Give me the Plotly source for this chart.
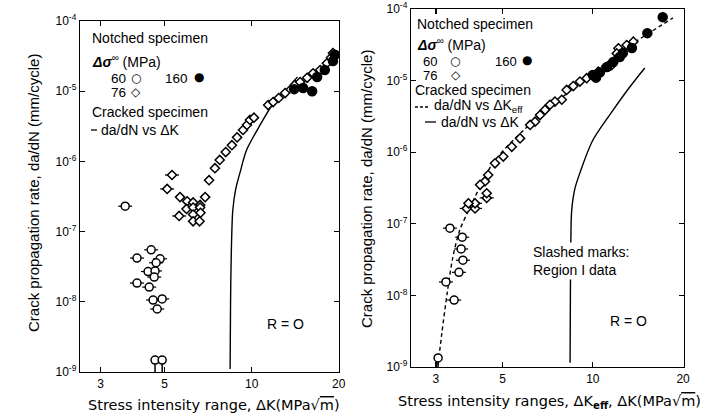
import plotly.graph_objects as go

FONT = "Liberation Sans, Arial, Helvetica, sans-serif"
FONT_WIDE = "DejaVu Sans, Liberation Sans, sans-serif"
W, H = 719, 416

# ---------------- Left panel: da/dN vs ΔK ----------------
L_c60_slash_dk = [3.65, 4.49, 4.01, 4.82, 4.67, 4.38, 4.63, 4.60, 4.01, 4.42, 4.56, 4.90, 4.71]
L_c60_slash_rate = [2.3e-7, 5.5e-8, 4.2e-8, 4.1e-8, 3.6e-8, 2.7e-8, 2.75e-8, 2.25e-8,
                    1.85e-8, 1.62e-8, 1.06e-8, 1.1e-8, 7.9e-9]
L_c60_runout_dk = [4.63, 4.90]
L_c60_runout_rate = [1.48e-9, 1.48e-9]
L_d76_slash_dk = [5.30, 5.10, 5.61]
L_d76_slash_rate = [6.4e-7, 4.05e-7, 1.67e-7]
L_d76_dk = [5.65, 5.98, 6.27, 6.63, 5.95, 6.27, 6.63, 6.27, 6.65, 6.27, 6.60,
            6.90, 7.12, 7.46, 7.75, 8.13, 8.54, 8.90, 9.33, 9.63, 9.86, 10.18,
            11.4, 11.86, 12.4, 13.05, 14.1, 14.7, 15.55, 16.3, 17.25, 18.2, 18.8, 19.1]
L_d76_rate = [3.1e-7, 2.7e-7, 2.6e-7, 2.4e-7, 2.1e-7, 2.2e-7, 2.2e-7, 1.75e-7, 1.85e-7, 1.4e-7, 1.4e-7,
              3.1e-7, 5.4e-7, 8.0e-7, 1.05e-6, 1.36e-6, 1.7e-6, 2.2e-6, 2.8e-6, 3.3e-6, 3.9e-6, 4.2e-6,
              6.35e-6, 7.0e-6, 8.0e-6, 9.4e-6, 1.23e-5, 1.35e-5, 1.55e-5, 1.8e-5, 2.0e-5, 2.5e-5, 3.0e-5, 3.5e-5]
L_f160_dk = [14.02, 15.06, 16.18, 16.84, 17.9, 19.1, 19.4]
L_f160_rate = [1.07e-5, 1.11e-5, 1.0e-5, 1.59e-5, 2.0e-5, 2.69e-5, 3.3e-5]
L_curve_dk = [8.42, 8.45, 8.5, 8.6, 8.8, 9.1, 9.6, 10.6, 11.9, 13.3, 14.4]
L_curve_rate = [1.1e-9, 1e-8, 5e-8, 2e-7, 4e-7, 6.8e-7, 1.45e-6, 3.1e-6, 6.8e-6, 1.1e-5, 1.6e-5]

# ---------------- Right panel: da/dN vs ΔKeff, ΔK ----------------
R_c60_slash_dk = [3.34, 3.67, 3.64, 3.69, 3.58, 3.24, 3.45]
R_c60_slash_rate = [8.7e-8, 6.5e-8, 4.45e-8, 3.1e-8, 2.1e-8, 1.54e-8, 8.6e-9]
R_c60_runout_dk = [3.05]
R_c60_runout_rate = [1.34e-9]
R_d76_slash_dk = [3.80, 4.05, 4.05, 4.43]
R_d76_slash_rate = [1.64e-7, 1.64e-7, 1.93e-7, 2.3e-7]
R_d76_dk = [13.65, 12.97, 12.17, 12.02, 11.56, 10.43, 10.17, 9.54, 9.06, 8.61, 8.18, 7.88, 7.48, 7.2,
            6.93, 6.67, 6.42, 6.18, 5.72, 5.37, 5.03, 4.72, 4.48, 4.37, 4.21, 4.43, 3.85]
R_d76_rate = [3.5e-5, 3.14e-5, 2.83e-5, 2.4e-5, 1.65e-5, 1.33e-5, 1.13e-5, 1.08e-5, 9.7e-6, 8.4e-6, 7.4e-6,
              5.4e-6, 5.1e-6, 4.6e-6, 3.9e-6, 3.3e-6, 2.67e-6, 2.4e-6, 1.56e-6, 1.19e-6, 8.7e-7, 7.0e-7,
              4.8e-7, 3.9e-7, 3.5e-7, 2.67e-7, 1.93e-7]
R_f160_dk = [17.1, 15.2, 13.5, 12.6, 12.3, 11.7, 11.15, 10.57, 10.0, 10.25]
R_f160_rate = [7.7e-5, 4.6e-5, 2.85e-5, 2.43e-5, 2.14e-5, 1.82e-5, 1.55e-5, 1.31e-5, 1.2e-5, 1.1e-5]
R_eff_dk = [3.05, 3.14, 3.27, 3.41, 3.6, 3.9, 4.65, 6.0, 8.9, 13.0, 18.5]
R_eff_rate = [1.07e-9, 3e-9, 1.07e-8, 3.3e-8, 8.1e-8, 1.7e-7, 7.1e-7, 2.2e-6, 8.7e-6, 2.9e-5, 7.5e-5]
R_dk_dk = [8.4, 8.42, 8.45, 8.5, 8.7, 9.05, 10.0, 11.7, 13.3, 14.9]
R_dk_rate = [1.15e-9, 1e-8, 6e-8, 1.5e-7, 3e-7, 5.1e-7, 1.47e-6, 3.9e-6, 8.2e-6, 1.5e-5]

# ---------------- Axis ticks ----------------
X_TICKS = [3, 5, 10, 20]
X_TICKTEXT = ["3", "5", "10", "20"]
Y_TICKS = [1e-9, 1e-8, 1e-7, 1e-6, 1e-5, 1e-4]
Y_TICKTEXT = ["10<sup>-9</sup>", "10<sup>-8</sup>", "10<sup>-7</sup>", "10<sup>-6</sup>",
              "10<sup>-5</sup>", "10<sup>-4</sup>"]
Y_FLOOR = 1e-9

fig = go.Figure()


def slashed(x, y, xa, ya, size_line=10):
    fig.add_trace(go.Scatter(x=x, y=y, xaxis=xa, yaxis=ya, mode="markers", hoverinfo="skip",
                             marker=dict(symbol="line-ew", size=size_line,
                                         line=dict(color="black", width=1.2))))


def circles(x, y, xa, ya, filled=False, size=8, runout=False):
    kw = {}
    if runout:
        kw["error_y"] = dict(type="data", symmetric=False, array=[0] * len(y),
                             arrayminus=[v - Y_FLOOR for v in y], width=0,
                             thickness=1.5, color="black")
    fig.add_trace(go.Scatter(x=x, y=y, xaxis=xa, yaxis=ya, mode="markers",
                             marker=dict(symbol="circle", size=size,
                                         color="black" if filled else "white",
                                         line=dict(color="black", width=1.5)), **kw))


def diamonds(x, y, xa, ya):
    fig.add_trace(go.Scatter(x=x, y=y, xaxis=xa, yaxis=ya, mode="markers",
                             marker=dict(symbol="diamond", size=7, color="white",
                                         line=dict(color="black", width=1.5))))


# Left panel
fig.add_trace(go.Scatter(x=L_curve_dk, y=L_curve_rate, xaxis="x", yaxis="y", mode="lines",
                         line=dict(color="black", width=1.4, shape="spline", smoothing=0.8)))
slashed(L_c60_slash_dk, L_c60_slash_rate, "x", "y")
circles(L_c60_slash_dk, L_c60_slash_rate, "x", "y")
circles(L_c60_runout_dk, L_c60_runout_rate, "x", "y", runout=True)
slashed(L_d76_slash_dk, L_d76_slash_rate, "x", "y")
diamonds(L_d76_slash_dk, L_d76_slash_rate, "x", "y")
diamonds(L_d76_dk, L_d76_rate, "x", "y")
circles(L_f160_dk, L_f160_rate, "x", "y", filled=True, size=9)

# Right panel
fig.add_trace(go.Scatter(x=R_eff_dk, y=R_eff_rate, xaxis="x2", yaxis="y2", mode="lines",
                         line=dict(color="black", width=1.4, dash="4px,3px", shape="spline", smoothing=0.8)))
fig.add_trace(go.Scatter(x=R_dk_dk, y=R_dk_rate, xaxis="x2", yaxis="y2", mode="lines",
                         line=dict(color="black", width=1.4, shape="spline", smoothing=0.8)))
slashed(R_c60_slash_dk, R_c60_slash_rate, "x2", "y2")
circles(R_c60_slash_dk, R_c60_slash_rate, "x2", "y2")
circles(R_c60_runout_dk, R_c60_runout_rate, "x2", "y2", runout=True)
slashed(R_d76_slash_dk, R_d76_slash_rate, "x2", "y2")
diamonds(R_d76_slash_dk, R_d76_slash_rate, "x2", "y2")
diamonds(R_d76_dk, R_d76_rate, "x2", "y2")
circles(R_f160_dk, R_f160_rate, "x2", "y2", filled=True, size=9)

axis_common = dict(type="log", showgrid=False, zeroline=False, showline=True, linecolor="black",
                   linewidth=1.3, mirror="ticks", ticks="inside", ticklen=5, tickwidth=1.2,
                   tickcolor="black", automargin=False,
                   tickfont=dict(family=FONT, size=12, color="black"))


def px(x):
    return x / W


def py(y):
    return 1 - y / H


fig.update_layout(
    width=W, height=H, margin=dict(l=0, r=0, t=0, b=0, pad=0, autoexpand=False),
    paper_bgcolor="white", plot_bgcolor="white", showlegend=False, hovermode=False,
    xaxis=dict(axis_common, domain=[px(80), px(339)], range=[0.406, 1.302], anchor="y",
               tickvals=X_TICKS, ticktext=X_TICKTEXT),
    yaxis=dict(axis_common, domain=[py(372), py(21)], range=[-9, -4], anchor="x",
               tickvals=Y_TICKS, ticktext=Y_TICKTEXT),
    xaxis2=dict(axis_common, domain=[px(411), px(684)], range=[0.394, 1.304], anchor="y2",
                tickvals=X_TICKS, ticktext=X_TICKTEXT),
    yaxis2=dict(axis_common, domain=[py(367), py(9)], range=[-9, -4], anchor="x2",
                tickvals=Y_TICKS, ticktext=Y_TICKTEXT),
)

annotations = []
shapes = []


def ann(text, x, y, size=14, xanchor="left", family=FONT, **kw):
    annotations.append(dict(text=text, x=px(x), y=py(y), xref="paper", yref="paper",
                            xanchor=xanchor, yanchor="middle", showarrow=False,
                            font=dict(family=family, size=size, color="black"), **kw))


def legline(x0, x1, y, dash="solid"):
    shapes.append(dict(type="line", xref="paper", yref="paper", x0=px(x0), x1=px(x1),
                       y0=py(y), y1=py(y), line=dict(color="black", width=1.3, dash=dash)))


DSIG = "<b><i>Δσ</i></b><sup>∞</sup> (MPa)"

# Left legend
ann("Notched specimen", 90, 38)
ann(DSIG, 90, 61)
ann("60", 109, 78, size=13.5)
ann("○", 136, 78, size=12, xanchor="center", family=FONT_WIDE)
ann("160", 163, 78, size=13.5)
ann("●", 199, 77, size=12, xanchor="center", family=FONT_WIDE)
ann("76", 109, 92, size=13.5)
ann("◇", 136, 92, size=12, xanchor="center", family=FONT_WIDE)
ann("Cracked specimen", 90, 112)
legline(91, 97, 130)
ann("da/dN vs ΔK", 99, 130)
ann("R = O", 285, 324, xanchor="center")

# Right legend
ann("Notched specimen", 415, 24)
ann(DSIG, 415, 44)
ann("60", 421, 61, size=13)
ann("○", 455, 61, size=12, xanchor="center", family=FONT_WIDE)
ann("160", 493, 61, size=13)
ann("●", 527, 60, size=12, xanchor="center", family=FONT_WIDE)
ann("76", 421, 75, size=13)
ann("◇", 456, 75, size=12, xanchor="center", family=FONT_WIDE)
ann("Cracked specimen", 413, 90)
legline(415, 429, 107, dash="3px,2px")
ann("da/dN vs ΔK<sub>eff</sub>", 432, 106)
legline(425, 436, 122)
ann("da/dN vs ΔK", 439, 122)
ann("Slashed marks:<br>Region I data", 531, 261, align="left", bgcolor="white")
ann("R = O", 628, 321, xanchor="center")

# Axis titles
ann("Crack propagation rate, da/dN (mm/cycle)", 33, 193, size=15, xanchor="center", textangle=-90)
ann("Crack propagation rate, da/dN (mm/cycle)", 366, 189, size=15, xanchor="center", textangle=-90)
SQRTM = "√<span style='text-decoration:overline'>m</span>"
ann("Stress intensity range, ΔK(MPa" + SQRTM + ")", 214, 405, size=14.5, xanchor="center",
    family=FONT_WIDE)
ann("Stress intensity ranges, ΔK<sub><b>eff</b></sub>, ΔK(MPa" + SQRTM + ")", 549, 402, size=14.5,
    xanchor="center", family=FONT_WIDE)

fig.update_layout(annotations=annotations, shapes=shapes)
fig.write_html("out.html", config={"displayModeBar": False, "staticPlot": True},
               post_script="document.body.style.margin='0';document.body.style.overflow='hidden';")
